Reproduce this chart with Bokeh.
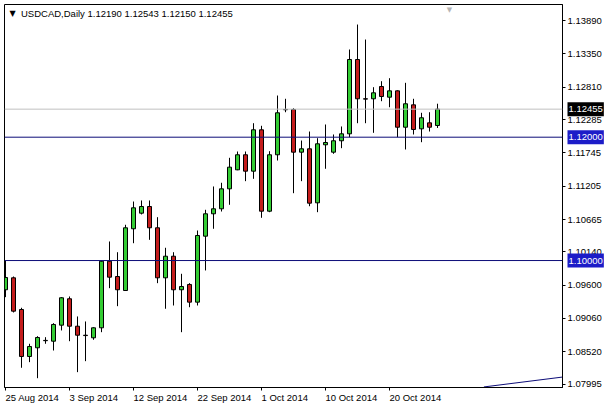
from bokeh.plotting import figure
from bokeh.models import ColumnDataSource, Range1d, FixedTicker, Span, Label, NumeralTickFormatter
from bokeh.core.properties import value
from bokeh.embed import file_html
from bokeh.resources import INLINE

# ---- data ----
bar_index = list(range(55))
opens = [1.09526, 1.09720, 1.09206, 1.08444, 1.08585, 1.08700, 1.08692, 1.08952, 1.09380, 1.08935,
         1.08789, 1.08747, 1.08909, 1.09989, 1.09741, 1.09514, 1.10515, 1.10768, 1.10876, 1.10531,
         1.09720, 1.10070, 1.09526, 1.09612, 1.09325, 1.10395, 1.10758, 1.10839, 1.11163, 1.11471,
         1.11715, 1.11449, 1.12120, 1.10800, 1.11715, 1.12445, 1.12449, 1.11757, 1.11812, 1.10936,
         1.11877, 1.11757, 1.11942, 1.12055, 1.13260, 1.12623, 1.12623, 1.12822, 1.12649, 1.12752,
         1.12162, 1.12525, 1.12136, 1.12233, 1.12190]
highs = [1.09993, 1.09741, 1.09234, 1.08650, 1.08773, 1.08757, 1.08984, 1.09406, 1.09417, 1.09093,
         1.09012, 1.08919, 1.10001, 1.10309, 1.10135, 1.10580, 1.10957, 1.10974, 1.10974, 1.10703,
         1.10207, 1.10135, 1.09785, 1.09633, 1.10487, 1.10823, 1.11201, 1.11261, 1.11666, 1.11768,
         1.11768, 1.12227, 1.12185, 1.11773, 1.12676, 1.12623, 1.12470, 1.11946, 1.12092, 1.11984,
         1.12206, 1.12044, 1.12174, 1.13422, 1.13827, 1.13584, 1.12811, 1.12908, 1.12957, 1.12760,
         1.12882, 1.12623, 1.12396, 1.12405, 1.12543]
lows = [1.09406, 1.09158, 1.08261, 1.08352, 1.08092, 1.08650, 1.08541, 1.08866, 1.08692, 1.08190,
        1.08368, 1.08715, 1.08838, 1.09552, 1.09260, 1.09510, 1.10281, 1.10747, 1.10336, 1.09633,
        1.09218, 1.09271, 1.08838, 1.09243, 1.09271, 1.09839, 1.10515, 1.10795, 1.10904, 1.11465,
        1.11287, 1.11325, 1.10693, 1.10784, 1.11622, 1.12405, 1.11092, 1.11287, 1.10881, 1.10784,
        1.11488, 1.11731, 1.11822, 1.12000, 1.12227, 1.12227, 1.12071, 1.12584, 1.12486, 1.12000,
        1.11801, 1.12044, 1.11919, 1.12092, 1.12150]
closes = [1.09725, 1.09179, 1.08444, 1.08606, 1.08752, 1.08705, 1.08963, 1.09396, 1.08935, 1.08789,
          1.08783, 1.08909, 1.09989, 1.09730, 1.09526, 1.10531, 1.10855, 1.10876, 1.10531, 1.09720,
          1.10070, 1.09526, 1.09579, 1.09325, 1.10406, 1.10758, 1.10839, 1.11163, 1.11514, 1.11715,
          1.11449, 1.12120, 1.10800, 1.11715, 1.12396, 1.12450, 1.11757, 1.11812, 1.10930, 1.11893,
          1.11914, 1.11942, 1.12055, 1.13260, 1.12623, 1.12618, 1.12720, 1.12660, 1.12752, 1.12162,
          1.12542, 1.12125, 1.12315, 1.12162, 1.12455]

price_ticks = [1.13890, 1.13350, 1.12810, 1.12285, 1.11745, 1.11205, 1.10665, 1.10140,
               1.09600, 1.09060, 1.08520, 1.07995]
date_ticks = [0, 8, 16, 24, 32, 40, 48]
date_labels = ["25 Aug 2014", "3 Sep 2014", "12 Sep 2014", "22 Sep 2014",
               "1 Oct 2014", "10 Oct 2014", "20 Oct 2014"]
level_lines = [1.12000, 1.10000]
last_price = 1.12455
title_text = "USDCAD,Daily  1.12190 1.12543 1.12150 1.12455"
trend_x = [59.8, 69.6]
trend_y = [1.0795, 1.0811]
x_view = (-0.125, 69.625)
y_view = (1.07941, 1.14152)

# ---- styling ----
FONT = "Liberation Sans"
FS = "9.5px"
UP = "#33cc33"
DOWN = "#c41c1c"
LEVEL = "#0c0c78"
BOX_BLUE = "#1c1cc8"

colors = [UP if c >= o else DOWN for o, c in zip(opens, closes)]
src = ColumnDataSource(dict(x=bar_index, o=opens, h=highs, l=lows, c=closes,
                            top=[max(a, b) for a, b in zip(opens, closes)],
                            bottom=[min(a, b) for a, b in zip(opens, closes)],
                            color=colors))

p = figure(width=607, height=407, output_backend="svg", toolbar_location=None,
           x_range=Range1d(*x_view), y_range=Range1d(*y_view),
           y_axis_location="right",
           min_border_left=4, min_border_top=4, min_border_right=45, min_border_bottom=20)
p.background_fill_color = "white"
p.border_fill_color = "white"
p.outline_line_color = "black"
p.outline_line_width = 1
p.xgrid.visible = False
p.ygrid.visible = False

# y axis
ya = p.yaxis[0]
ya.ticker = FixedTicker(ticks=price_ticks)
ya.formatter = NumeralTickFormatter(format="0.00000")
ya.major_label_text_font = FONT
ya.major_label_text_font_size = FS
ya.major_label_text_color = "black"
ya.major_tick_in = 0
ya.major_tick_out = 3
ya.minor_tick_in = 0
ya.minor_tick_out = 0
ya.major_label_standoff = 2
ya.axis_line_color = "black"
ya.major_tick_line_color = "black"

# x axis (ticks only, labels drawn left-aligned)
xa = p.xaxis[0]
xa.ticker = FixedTicker(ticks=date_ticks)
xa.major_label_overrides = {t: "" for t in date_ticks}
xa.major_tick_in = 0
xa.major_tick_out = 3
xa.minor_tick_in = 0
xa.minor_tick_out = 0
xa.axis_line_color = "black"
xa.major_tick_line_color = "black"

# horizontal lines
p.add_layout(Span(location=last_price, dimension="width", line_color="#c0c0c0", line_width=1))
for lv in level_lines:
    p.add_layout(Span(location=lv, dimension="width", line_color=LEVEL, line_width=1))

p.line(trend_x, trend_y, line_color=LEVEL, line_width=1)

# candles
p.segment(x0="x", y0="l", x1="x", y1="h", source=src, line_color="black", line_width=1)
p.vbar(x="x", width=0.5, top="top", bottom="bottom", source=src,
       fill_color="color", line_color="black", line_width=1)

# chart-shift marker at the top, just right of the last bar
p.text(x=[bar_index[-1] + 1.5], y=[y_view[1]], text=["\u25bc"], y_offset=1,
       text_align="center", text_baseline="top",
       text_font=value("DejaVu Sans"), text_font_size="7px", text_color="#b4b4b4")

# date labels (left-aligned at their tick, below the frame)
p.text(x=date_ticks, y=[y_view[0]] * len(date_ticks), text=date_labels,
       text_align="left", text_baseline="middle", y_offset=10,
       text_font=value(FONT), text_font_size=FS, text_color="black", level="overlay")

# price boxes on the scale
for val, bg in [(last_price, "black")] + [(lv, BOX_BLUE) for lv in level_lines]:
    p.text(x=[x_view[1]], y=[val], text=[f"{val:.5f}"], x_offset=5,
           text_align="left", text_baseline="middle",
           text_font=value(FONT), text_font_size=FS, text_color="white",
           background_fill_color=bg, padding=(1, 4), level="overlay")

# title
p.add_layout(Label(x=x_view[0], y=y_view[1], text="\u25bc", x_offset=5, y_offset=-9,
                   text_align="left", text_baseline="middle",
                   text_font="DejaVu Sans", text_font_size="8px", text_color="black"))
p.add_layout(Label(x=x_view[0], y=y_view[1], text=title_text, x_offset=16.5, y_offset=-9,
                   text_align="left", text_baseline="middle",
                   text_font=FONT, text_font_size=FS, text_color="black"))

open("out.html", "w").write(file_html(p, INLINE))
